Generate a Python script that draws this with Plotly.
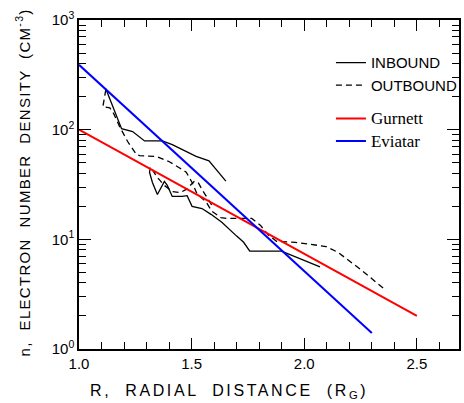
import plotly.graph_objects as go

# ---- data ----
g2_in_r = [1.119, 1.189, 1.238, 1.291, 1.370, 1.414, 1.520, 1.577, 1.652]
g2_in_n = [236, 102, 96, 79, 79, 73, 57, 52, 34]

g2_out_r = [1.119, 1.106, 1.137, 1.154, 1.181, 1.216, 1.256, 1.269, 1.344, 1.401, 1.445,
            1.476, 1.502, 1.524, 1.564, 1.590, 1.630, 1.656, 1.767, 1.806, 1.841, 1.877,
            1.960, 2.097, 2.150, 2.251, 2.357]
g2_out_n = [231, 162, 158, 140, 106, 78, 59, 58, 57, 51, 45,
            41, 33, 26, 22, 18, 15.8, 15.5, 15.5, 13.4, 10.9, 9.6,
            9.4, 8.6, 7.6, 5.3, 3.5]

g1_in_r = [1.317, 1.313, 1.326, 1.348, 1.379, 1.392, 1.414, 1.458, 1.480, 1.502, 1.546,
           1.586, 1.634, 1.656, 1.700, 1.731, 1.758, 1.899, 2.070]
g1_in_n = [45, 41, 33, 25.6, 33.7, 31, 24.6, 24.6, 25, 20, 19.1,
           16.9, 14.3, 12.9, 10.7, 9.4, 7.8, 7.8, 5.6]

g1_out_r = [1.326, 1.348, 1.379, 1.414, 1.449, 1.476, 1.511, 1.529, 1.546, 1.568, 1.590]
g1_out_n = [43, 36.6, 31, 27.3, 26.7, 28.5, 33.7, 33, 28.5, 24.1, 20.4]

gurnett_r = [1.0, 2.5]
gurnett_n = [100, 2.0]
eviatar_r = [1.0, 2.3]
eviatar_n = [390, 1.4]

x_tickvals = [1.0, 1.5, 2.0, 2.5]
x_ticktext = ["1.0", "1.5", "2.0", "2.5"]
y_tickvals = [1, 10, 100, 1000]
y_ticktext = ["10<sup>0</sup>", "10<sup>1</sup>", "10<sup>2</sup>", "10<sup>3</sup>"]

SANS = "Liberation Sans"
SERIF = "Liberation Serif"

fig = go.Figure()
solid = dict(color="black", width=1.3)
dashed = dict(color="black", width=1.3, dash="6px,4px")

fig.add_trace(go.Scatter(x=g2_in_r, y=g2_in_n, mode="lines", line=solid,
                         name="INBOUND", legendgroup="a", showlegend=True))
fig.add_trace(go.Scatter(x=g1_in_r, y=g1_in_n, mode="lines", line=solid,
                         name="INBOUND", legendgroup="a", showlegend=False))
fig.add_trace(go.Scatter(x=g2_out_r, y=g2_out_n, mode="lines", line=dashed,
                         name="OUTBOUND", legendgroup="a", showlegend=True))
fig.add_trace(go.Scatter(x=g1_out_r, y=g1_out_n, mode="lines", line=dashed,
                         name="OUTBOUND", legendgroup="a", showlegend=False))
fig.add_trace(go.Scatter(x=gurnett_r, y=gurnett_n, mode="lines",
                         line=dict(color="#ff0000", width=2),
                         name='<span style="font-family:%s;font-size:17px">Gurnett</span>' % SERIF,
                         legendgroup="b"))
fig.add_trace(go.Scatter(x=eviatar_r, y=eviatar_n, mode="lines",
                         line=dict(color="#0000ff", width=2),
                         name='<span style="font-family:%s;font-size:17px">Eviatar</span>' % SERIF,
                         legendgroup="b"))

fig.update_layout(
    width=464, height=403,
    margin=dict(l=79, r=2, t=20, b=54),
    paper_bgcolor="white", plot_bgcolor="white",
    font=dict(family=SANS, size=14, color="black"),
    showlegend=True,
    legend=dict(x=0.663, y=0.92, xanchor="left", yanchor="top",
                bgcolor="rgba(0,0,0,0)", font=dict(family=SANS, size=15),
                tracegroupgap=11, traceorder="grouped", itemwidth=30),
)

fig.update_xaxes(
    range=[1.0, 2.687], showline=True, linecolor="black", linewidth=1.5,
    mirror="allticks", ticks="inside", ticklen=11, tickwidth=1.2, tickcolor="black",
    tickmode="array", tickvals=x_tickvals, ticktext=x_ticktext,
    showgrid=False, zeroline=False, tickfont=dict(size=15),
    minor=dict(ticks="inside", ticklen=7, tickwidth=1.2, tickcolor="black",
               dtick=0.1, tick0=1.0, showgrid=False),
)
fig.update_yaxes(
    type="log", range=[0, 3], showline=True, linecolor="black", linewidth=1.5,
    mirror="allticks", ticks="inside", ticklen=12, tickwidth=1.2, tickcolor="black",
    tickmode="array", tickvals=y_tickvals, ticktext=y_ticktext,
    showgrid=False, zeroline=False, tickfont=dict(size=15),
    minor=dict(ticks="inside", ticklen=7, tickwidth=1.2, tickcolor="black",
               dtick="D1", showgrid=False),
)

fig.add_annotation(text='<span style="letter-spacing:2.6px">R,  RADIAL  DISTANCE  (R<sub>G</sub>)</span>',
                   xref="paper", yref="paper",
                   x=(230 - 79) / 383, y=-(391 - 349) / 329, xanchor="center", yanchor="middle",
                   showarrow=False, font=dict(size=16))
fig.add_annotation(text='<span style="letter-spacing:1.3px">n,  ELECTRON  NUMBER  DENSITY  (CM<sup>-3</sup>)</span>',
                   xref="paper", yref="paper",
                   x=-(79 - 22) / 383, y=(349 - 182) / 329, xanchor="center", yanchor="middle",
                   textangle=-90, showarrow=False, font=dict(size=15))
fig.add_annotation(text="G2", x=1.53, y=10 ** ((350 - 130) / 110), showarrow=False,
                   font=dict(size=15))
fig.add_annotation(text="G1", x=2.05, y=10 ** ((350 - 229) / 110), showarrow=False,
                   font=dict(size=15))

fig.write_html("out.html")
